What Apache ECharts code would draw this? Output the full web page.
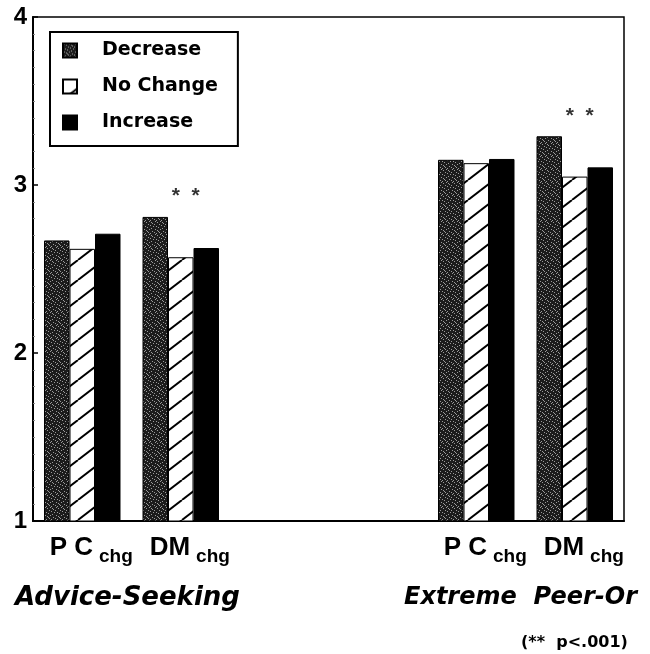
<!DOCTYPE html>
<html>
<head>
<meta charset="utf-8">
<script src="https://cdn.jsdelivr.net/npm/echarts@6/dist/echarts.min.js"></script>
<style>html,body{margin:0;padding:0;background:#fff}#c{width:650px;height:654px}</style>
</head>
<body>
<div id="c"></div>
<script>
// ---- data ----
const categories = ['P C', 'DM', '', '', 'P C', 'DM'];
const seriesNames = ['Decrease', 'No Change', 'Increase'];
const decrease = [2.67, 2.81, null, null, 3.15, 3.29];
const noChange = [2.62, 2.57, null, null, 3.13, 3.05];
const increase = [2.71, 2.625, null, null, 3.155, 3.105];
const yTicks = [1, 2, 3, 4];
const starMarks = [[1, 2.935], [5, 3.41]];
const groupTitles = ['Advice-Seeking', 'Extreme  Peer-Or'];
const footnote = '(**  p<.001)';

// ---- patterns ----
function stipple() {
  const c = document.createElement('canvas');
  c.width = 11; c.height = 13;
  const g = c.getContext('2d');
  g.fillStyle = '#1c1c1c'; g.fillRect(0, 0, 11, 13);
  g.fillStyle = '#9a9a9a';
  [[1,0],[6,0],[3,1],[9,2],[0,3],[5,3],[7,4],[2,5],[10,5],[4,6],[8,7],[1,8],
   [6,8],[3,9],[9,10],[0,11],[5,11],[7,12],[2,12],[8,1],[4,10]].forEach(p => g.fillRect(p[0], p[1], 1, 1));
  return c;
}
function hatch() {
  const w = 26, h = 20;
  const c = document.createElement('canvas');
  c.width = w; c.height = h;
  const g = c.getContext('2d');
  g.fillStyle = '#fff'; g.fillRect(0, 0, w, h);
  g.strokeStyle = '#000'; g.lineWidth = 2;
  [-1, 0, 1].forEach(k => {
    g.beginPath();
    g.moveTo(k * w, h);
    g.lineTo(k * w + w, 0);
    g.stroke();
  });
  return c;
}
const pats = [
  { image: stipple(), repeat: 'repeat' },
  { image: hatch(), repeat: 'repeat' },
  '#000'
];

const chart = echarts.init(document.getElementById('c'), null, { renderer: 'canvas' });
const valuesList = [decrease, noChange, increase];
const bars = seriesNames.map((n, i) => ({
  name: n,
  type: 'bar',
  data: valuesList[i],
  barWidth: 25.5,
  barGap: '0%',
  itemStyle: { color: pats[i], borderColor: '#000', borderWidth: 1 },
  emphasis: { disabled: true }
}));
bars.push({
  name: 'stars',
  type: 'scatter',
  data: starMarks,
  symbolSize: 0,
  silent: true,
  label: {
    show: true, position: 'inside', formatter: '*  *', offset: [5, 0],
    fontFamily: 'Liberation Sans, Arial', fontWeight: 'bold', fontSize: 21, color: '#000'
  }
});

chart.setOption({
  animation: false,
  backgroundColor: '#fff',
  grid: { left: 33, right: 26, top: 17, bottom: 133, show: true, borderColor: '#000', borderWidth: 1.5 },
  legend: {
    data: seriesNames,
    orient: 'vertical',
    left: 50, top: 32,
    icon: 'rect',
    itemWidth: 14, itemHeight: 14,
    itemGap: 17,
    padding: [9, 20, 14, 12],
    borderColor: '#000', borderWidth: 2,
    selectedMode: false,
    textStyle: { fontFamily: 'DejaVu Sans', fontWeight: 'bold', fontSize: 19, color: '#000', padding: [0, 0, 0, 20] }
  },
  xAxis: {
    type: 'category',
    data: categories,
    axisLine: { lineStyle: { color: '#000', width: 2 } },
    axisTick: { show: false },
    axisLabel: {
      margin: 8,
      interval: 0,
      padding: [0, 0, 0, 18],
      formatter: v => v ? '{a|' + v + '}{b|chg}' : '',
      rich: {
        a: { fontFamily: 'Liberation Sans, Arial', fontWeight: 'bold', fontSize: 26, color: '#000' },
        b: { fontFamily: 'Liberation Sans, Arial', fontWeight: 'bold', fontSize: 19, color: '#000', padding: [18, 0, 0, 6] }
      }
    }
  },
  yAxis: {
    type: 'value',
    min: yTicks[0], max: yTicks[yTicks.length - 1], interval: 1,
    splitLine: { show: false },
    axisLine: { show: true, lineStyle: { color: '#000', width: 2 } },
    axisTick: { show: true, inside: true, length: 5, lineStyle: { color: '#000', width: 1.5 } },
    minorTick: { show: true, splitNumber: 10, length: 2, lineStyle: { color: '#888', width: 1 } },
    axisLabel: {
      margin: 6,
      fontFamily: 'Liberation Sans, Arial', fontWeight: 'bold', fontSize: 24, color: '#000',
      padding: [4, 0, 0, 0]
    }
  },
  graphic: [
    { type: 'text', left: 15, top: 585, style: { text: groupTitles[0], font: 'italic bold 26px "DejaVu Sans"', fill: '#000' } },
    { type: 'text', left: 404, top: 586, style: { text: groupTitles[1], font: 'italic bold 24px "DejaVu Sans"', fill: '#000' } },
    { type: 'text', left: 521, top: 635, style: { text: footnote, font: 'bold 16px "DejaVu Sans"', fill: '#000' } }
  ],
  series: bars
});
</script>
</body>
</html>
